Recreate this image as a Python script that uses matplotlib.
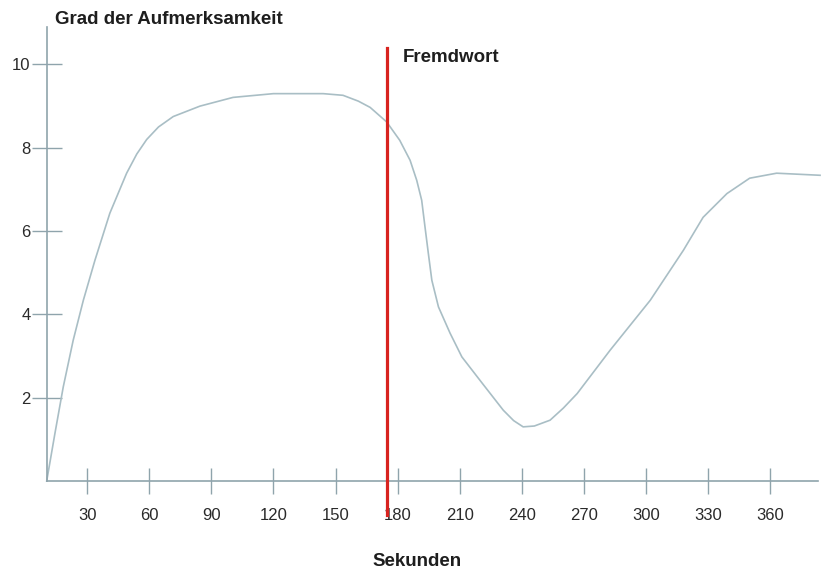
import matplotlib.pyplot as plt

plt.rcParams['font.family'] = ['Liberation Sans', 'DejaVu Sans']

# Daten
sekunden = [10.5, 14.5, 18.5, 23.3, 28.2, 33.8, 41, 49.1, 54, 58.8, 64.5, 71.6, 84.5,
            100.5, 120, 144, 153.6, 161, 166.7, 174.7, 181, 186, 189.2, 191.6, 193.2,
            194.8, 196.5, 199.7, 205.3, 211, 220.8, 231, 236, 240.6, 246, 253.6, 260,
            266.7, 282.6, 302, 318, 327.5, 339, 350, 363, 384]
aufmerksamkeit = [0, 1.15, 2.26, 3.38, 4.34, 5.3, 6.43, 7.39, 7.85, 8.2, 8.5, 8.75,
                  9.0, 9.21, 9.3, 9.3, 9.26, 9.12, 8.97, 8.62, 8.18, 7.7, 7.22, 6.74,
                  6.1, 5.47, 4.82, 4.18, 3.55, 2.98, 2.35, 1.7, 1.45, 1.3, 1.32, 1.46,
                  1.75, 2.1, 3.14, 4.34, 5.54, 6.33, 6.9, 7.27, 7.39, 7.34]
x_ticks = [30, 60, 90, 120, 150, 180, 210, 240, 270, 300, 330, 360]
y_ticks = [2, 4, 6, 8, 10]
fremdwort_t = 175

W, H = 822, 572
fig = plt.figure(figsize=(W / 100, H / 100), dpi=100)
ax = fig.add_axes([46.7 / W, (H - 481) / H, (818 - 46.7) / W, (481 - 27) / H])

achse = '#8fa4ac'
ax.plot(sekunden, aufmerksamkeit, color='#a9bec5', linewidth=1.2, clip_on=False)
ax.plot([fremdwort_t, fremdwort_t], [10.4, -0.82], color='#d8231f', linewidth=2.3,
        clip_on=False, zorder=5)

ax.set_xlim(10.5, 383)
ax.set_ylim(0, 10.9)
for s in ['top', 'right']:
    ax.spines[s].set_visible(False)
for s in ['left', 'bottom']:
    ax.spines[s].set_color(achse)
    ax.spines[s].set_linewidth(1.2)

ax.set_xticks(x_ticks)
ax.set_yticks(y_ticks)
ax.tick_params(axis='x', direction='inout', length=19, width=1, color=achse,
               pad=10, labelsize=12, labelcolor='#2a2a2a')
ax.tick_params(axis='y', direction='inout', length=21, width=1, color=achse,
               pad=1, labelsize=12, labelcolor='#2a2a2a')

fig.text(55 / W, 1 - 19 / H, 'Grad der Aufmerksamkeit', fontsize=13.5, fontweight='bold',
         va='center', ha='left', color='#1e1e1e')
fig.text(403 / W, 1 - 57 / H, 'Fremdwort', fontsize=13.5, fontweight='bold',
         va='center', ha='left', color='#1e1e1e')
fig.text(417 / W, 1 - 562 / H, 'Sekunden', fontsize=13.5, fontweight='bold',
         va='center', ha='center', color='#1e1e1e')

plt.savefig('out.png', dpi=100)
